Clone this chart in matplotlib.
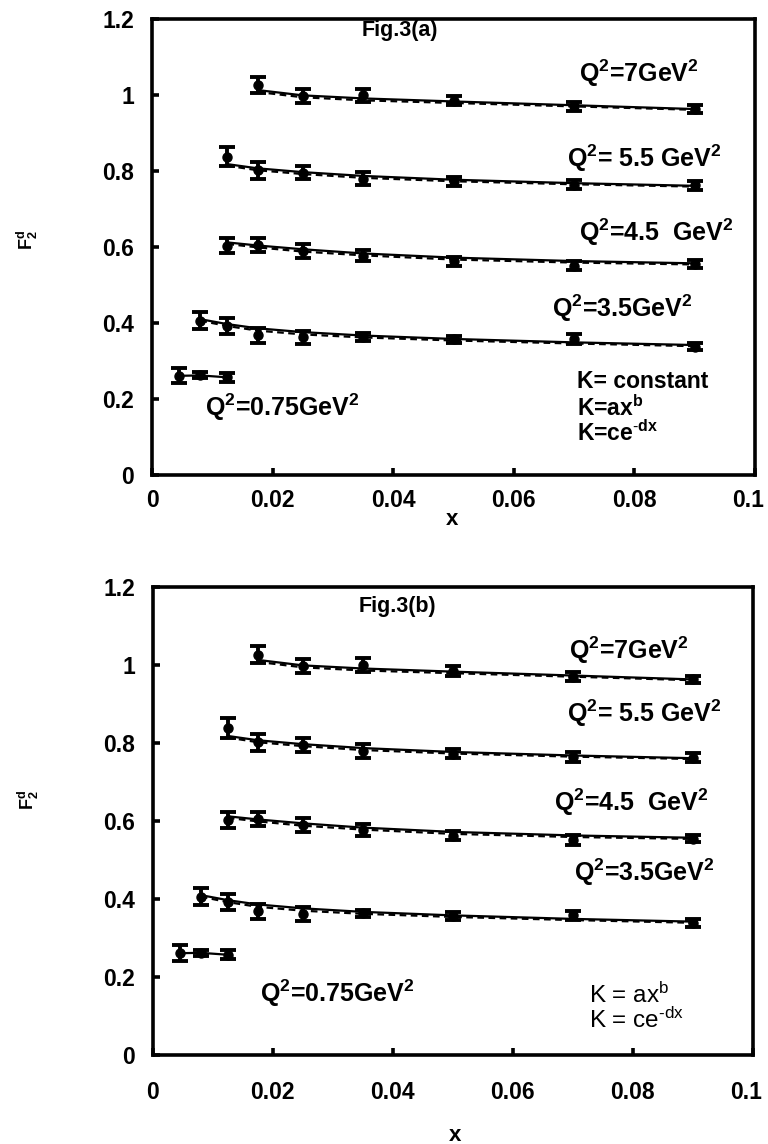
import matplotlib
matplotlib.use("Agg")
import matplotlib.pyplot as plt
import matplotlib.transforms as mtransforms

plt.rcParams['font.family'] = ['Liberation Sans', 'DejaVu Sans']
plt.rcParams['mathtext.fontset'] = 'custom'
plt.rcParams['mathtext.rm'] = 'Liberation Sans'
plt.rcParams['mathtext.it'] = 'Liberation Sans'
plt.rcParams['mathtext.bf'] = 'Liberation Sans:bold'
plt.rcParams['mathtext.default'] = 'rm'

# ---------------- data ----------------
x_q075 = [0.0045, 0.008, 0.0125]
f_q075 = [0.261, 0.262, 0.257]
e_q075 = [0.020, 0.008, 0.012]

x_q35 = [0.008, 0.0125, 0.0175, 0.025, 0.035, 0.05, 0.07, 0.09]
f_q35 = [0.406, 0.392, 0.368, 0.362, 0.363, 0.357, 0.358, 0.338]
e_q35 = [0.022, 0.020, 0.020, 0.018, 0.010, 0.010, 0.012, 0.010]

x_q45 = [0.0125, 0.0175, 0.025, 0.035, 0.05, 0.07, 0.09]
f_q45 = [0.603, 0.605, 0.590, 0.577, 0.562, 0.551, 0.555]
e_q45 = [0.020, 0.018, 0.018, 0.015, 0.012, 0.012, 0.010]

x_q55 = [0.0125, 0.0175, 0.025, 0.035, 0.05, 0.07, 0.09]
f_q55 = [0.838, 0.802, 0.796, 0.780, 0.773, 0.764, 0.762]
e_q55 = [0.025, 0.022, 0.018, 0.018, 0.012, 0.012, 0.012]

x_q7 = [0.0175, 0.025, 0.035, 0.05, 0.07, 0.09]
f_q7 = [1.026, 0.998, 0.999, 0.985, 0.970, 0.963]
e_q7 = [0.022, 0.018, 0.018, 0.012, 0.012, 0.010]

# fitted curves (solid / dashed), values read at the data x positions
fit_q35_s = [0.410, 0.397, 0.386, 0.376, 0.367, 0.358, 0.349, 0.342]
fit_q35_d = [0.406, 0.392, 0.380, 0.370, 0.362, 0.354, 0.346, 0.339]
fit_q45_s = [0.612, 0.604, 0.594, 0.583, 0.572, 0.563, 0.557]
fit_q45_d = [0.608, 0.599, 0.588, 0.578, 0.567, 0.559, 0.554]
fit_q55_s = [0.818, 0.807, 0.797, 0.787, 0.777, 0.768, 0.761]
fit_q55_d = [0.814, 0.802, 0.792, 0.782, 0.773, 0.765, 0.759]
fit_q7_s = [1.013, 0.999, 0.991, 0.983, 0.973, 0.963]
fit_q7_d = [1.008, 0.994, 0.986, 0.979, 0.970, 0.961]

series = [
    (x_q075, f_q075, e_q075, None, None),
    (x_q35, f_q35, e_q35, fit_q35_s, fit_q35_d),
    (x_q45, f_q45, e_q45, fit_q45_s, fit_q45_d),
    (x_q55, f_q55, e_q55, fit_q55_s, fit_q55_d),
    (x_q7, f_q7, e_q7, fit_q7_s, fit_q7_d),
]

x_ticks = [0, 0.02, 0.04, 0.06, 0.08, 0.1]
x_ticklabels = ['0', '0.02', '0.04', '0.06', '0.08', '0.1']
y_ticks = [0, 0.2, 0.4, 0.6, 0.8, 1.0, 1.2]
y_ticklabels = ['0', '0.2', '0.4', '0.6', '0.8', '1', '1.2']

fig = plt.figure(figsize=(7.68, 11.44), dpi=100)
ax_a = fig.add_axes([0.198, 0.5848, 0.785, 0.3986])
ax_b = fig.add_axes([0.199, 0.0778, 0.781, 0.4091])


def draw_panel(ax, xpad):
    for xs, fs, es, fs_s, fs_d in series:
        if fs_s is None:
            ax.plot(xs, fs, color='black', lw=1.6, zorder=2)
        else:
            ax.plot(xs, fs_s, color='black', lw=1.6, zorder=2)
            ax.plot(xs, fs_d, color='black', lw=1.6, dashes=(3, 2), zorder=2)
        ax.errorbar(xs, fs, yerr=es, fmt='o', color='black', ms=6.5,
                    elinewidth=2.8, capsize=5.5, capthick=2.8, zorder=3)
    ax.set_xlim(0, 0.1)
    ax.set_ylim(0, 1.2)
    ax.set_xticks(x_ticks)
    ax.set_xticklabels(x_ticklabels)
    ax.set_yticks(y_ticks)
    ax.set_yticklabels(y_ticklabels)
    for sp in ax.spines.values():
        sp.set_linewidth(2.6)
    ax.tick_params(axis='both', direction='in', length=5, width=2.6,
                   labelsize=16.5)
    ax.tick_params(axis='y', pad=13)
    ax.tick_params(axis='x', pad=xpad)
    for lab in ax.get_xticklabels() + ax.get_yticklabels():
        lab.set_fontweight('bold')
    # keep the last x tick label inside the picture
    last = ax.get_xticklabels()[-1]
    last.set_transform(last.get_transform() +
                       mtransforms.ScaledTranslation(-5 / 72, 0,
                                                     fig.dpi_scale_trans))
    ax.set_ylabel(r'F$_{\mathbf{2}}^{\mathbf{d}}$', fontsize=13,
                  fontweight='bold')
    ax.set_xlabel('x', fontsize=16, fontweight='bold')


draw_panel(ax_a, 10)
draw_panel(ax_b, 19)
ax_a.yaxis.set_label_coords(-0.186, 0.515)
ax_b.yaxis.set_label_coords(-0.186, 0.545)
ax_a.xaxis.set_label_coords(0.497, -0.075)
ax_b.xaxis.set_label_coords(0.503, -0.150)

bold = dict(fontsize=18, fontweight='bold', ha='center', va='center')

# panel (a)
ax_a.text(0.0411, 1.171, 'Fig.3(a)', fontsize=15.5, fontweight='bold',
          ha='center', va='center')
ax_a.text(0.0808, 1.058, r'Q$^{\mathbf{2}}$=7GeV$^{\mathbf{2}}$', **bold)
ax_a.text(0.0816, 0.834, r'Q$^{\mathbf{2}}$= 5.5 GeV$^{\mathbf{2}}$', **bold)
ax_a.text(0.0836, 0.639, r'Q$^{\mathbf{2}}$=4.5  GeV$^{\mathbf{2}}$', **bold)
ax_a.text(0.0780, 0.439, r'Q$^{\mathbf{2}}$=3.5GeV$^{\mathbf{2}}$', **bold)
ax_a.text(0.0216, 0.179, r'Q$^{\mathbf{2}}$=0.75GeV$^{\mathbf{2}}$', **bold)
kb = dict(fontsize=16.5, fontweight='bold', ha='left', va='center')
ax_a.text(0.0705, 0.245, 'K= constant', **kb)
ax_a.text(0.0705, 0.176, r'K=ax$^{\mathbf{b}}$', **kb)
ax_a.text(0.0705, 0.110, r'K=ce$^{\mathbf{\text{-}dx}}$', **kb)

# panel (b)
ax_b.text(0.0408, 1.150, 'Fig.3(b)', fontsize=15.5, fontweight='bold',
          ha='center', va='center')
ax_b.text(0.0793, 1.038, r'Q$^{\mathbf{2}}$=7GeV$^{\mathbf{2}}$', **bold)
ax_b.text(0.0820, 0.877, r'Q$^{\mathbf{2}}$= 5.5 GeV$^{\mathbf{2}}$', **bold)
ax_b.text(0.0798, 0.649, r'Q$^{\mathbf{2}}$=4.5  GeV$^{\mathbf{2}}$', **bold)
ax_b.text(0.0820, 0.469, r'Q$^{\mathbf{2}}$=3.5GeV$^{\mathbf{2}}$', **bold)
ax_b.text(0.0308, 0.159, r'Q$^{\mathbf{2}}$=0.75GeV$^{\mathbf{2}}$', **bold)
kr = dict(fontsize=17.5, ha='left', va='center')
ax_b.text(0.0728, 0.154, r'K = ax$^{b}$', **kr)
ax_b.text(0.0728, 0.090, r'K = ce$^{\text{-}dx}$', **kr)

fig.savefig('out.png', dpi=100)
